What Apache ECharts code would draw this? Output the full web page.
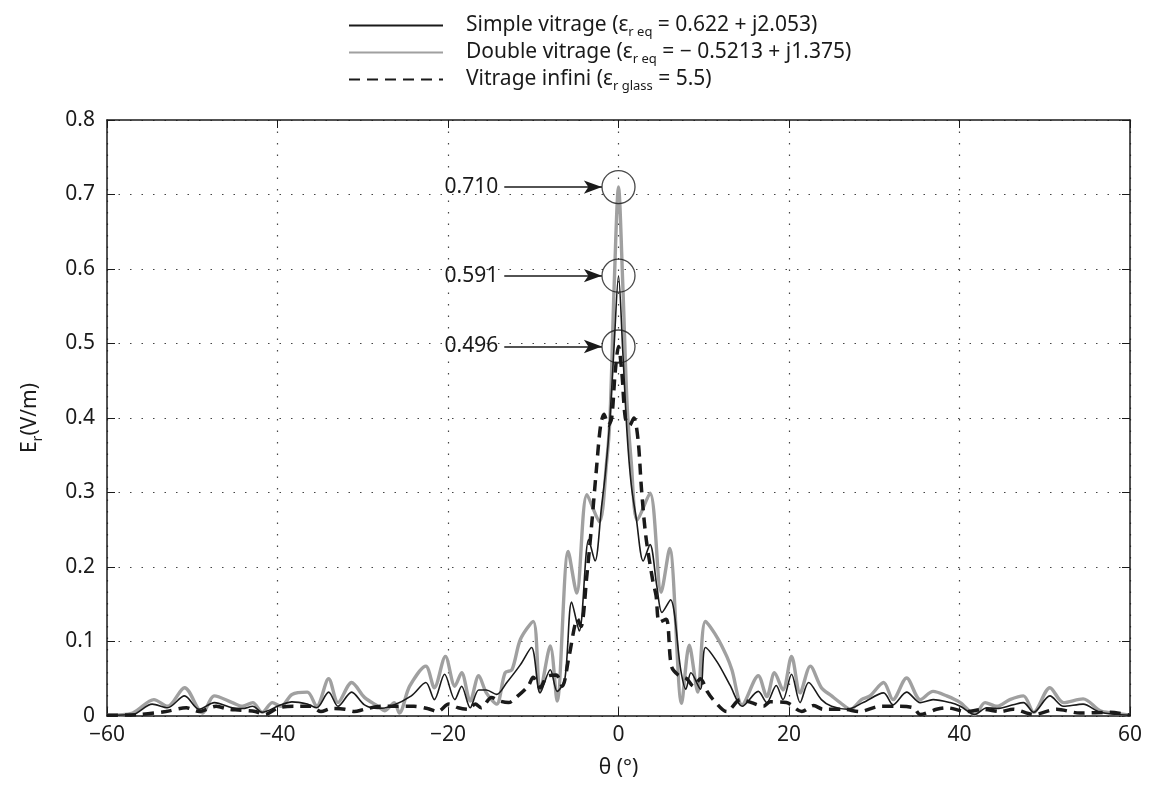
<!DOCTYPE html>
<html>
<head>
<meta charset="utf-8">
<script src="https://cdn.jsdelivr.net/npm/echarts@6/dist/echarts.min.js"></script>
<style>
  html, body { margin: 0; padding: 0; background: #fff; }
  #main { width: 1150px; height: 787px; }
</style>
</head>
<body>
<div id="main"></div>
<script>
// theta (deg), Er (V/m)
const simpleVitrage = [
  [-60, 0.001], [-57.0, 0.002], [-54.7, 0.016], [-52.9, 0.011], [-50.9, 0.027], [-49.2, 0.009],
  [-47.4, 0.018], [-45.3, 0.011], [-44.1, 0.010], [-42.9, 0.013], [-41.8, 0.005], [-39.8, 0.014],
  [-38.3, 0.019], [-36.5, 0.016], [-35.4, 0.011], [-34.0, 0.032], [-32.9, 0.013], [-31.3, 0.032],
  [-29.8, 0.015], [-28.2, 0.010], [-26.7, 0.013], [-24.3, 0.027], [-22.6, 0.045], [-21.6, 0.022],
  [-20.4, 0.056], [-19.2, 0.022], [-18.4, 0.040], [-17.4, 0.011], [-16.4, 0.035], [-15.5, 0.035],
  [-14.3, 0.029], [-13.1, 0.045], [-11.5, 0.069], [-10.2, 0.092], [-9.2, 0.031], [-8.0, 0.062],
  [-7.2, 0.033], [-6.3, 0.049], [-5.5, 0.153], [-4.6, 0.114], [-3.5, 0.237], [-2.75, 0.208],
  [-2.0, 0.28], [-1.5, 0.33], [-1.0, 0.40], [-0.5, 0.50], [0, 0.591], [0.5, 0.49], [1.0, 0.38],
  [1.5, 0.31], [2.1, 0.264], [2.9, 0.208], [3.7, 0.230], [4.5, 0.174], [5.1, 0.139], [6.1, 0.156],
  [7.3, 0.062], [7.9, 0.036], [8.5, 0.058], [9.6, 0.036], [10.2, 0.092], [11.6, 0.072], [13.1, 0.041],
  [14.5, 0.013], [16.4, 0.033], [17.4, 0.018], [18.5, 0.041], [19.3, 0.022], [20.3, 0.056],
  [21.3, 0.018], [22.3, 0.045], [23.8, 0.022], [25.0, 0.013], [26.8, 0.009], [28.7, 0.018],
  [31.1, 0.031], [32.2, 0.015], [33.8, 0.032], [35.4, 0.018], [36.9, 0.022], [38.9, 0.018],
  [40.1, 0.013], [41.8, 0.002], [43.2, 0.011], [44.4, 0.010], [46.3, 0.015], [47.5, 0.018],
  [48.7, 0.005], [50.6, 0.027], [52.2, 0.013], [54.5, 0.016], [56.5, 0.005], [60, 0.001]
];

const doubleVitrage = [
  [-60, 0.001], [-57.0, 0.004], [-54.5, 0.022], [-52.9, 0.013], [-50.9, 0.038], [-48.8, 0.004],
  [-47.4, 0.027], [-45.3, 0.018], [-44.1, 0.013], [-42.9, 0.018], [-41.8, 0.005], [-40.6, 0.018],
  [-39.6, 0.013], [-38.3, 0.029], [-36.5, 0.032], [-35.4, 0.013], [-34.0, 0.050], [-32.9, 0.018],
  [-31.3, 0.045], [-29.8, 0.025], [-28.2, 0.013], [-27.4, 0.007], [-26.3, 0.018], [-25.7, 0.004],
  [-24.5, 0.040], [-22.6, 0.067], [-21.6, 0.038], [-20.3, 0.080], [-19.2, 0.040], [-18.4, 0.058],
  [-17.4, 0.020], [-16.4, 0.054], [-15.5, 0.031], [-14.3, 0.016], [-13.3, 0.058], [-12.5, 0.062],
  [-11.5, 0.103], [-10.0, 0.127], [-9.2, 0.033], [-8.0, 0.094], [-7.2, 0.020], [-5.9, 0.221],
  [-4.9, 0.165], [-3.7, 0.297], [-2.25, 0.261], [-1.4, 0.34], [-1.0, 0.40], [-0.5, 0.58], [0, 0.71],
  [0.5, 0.58], [1.0, 0.42], [1.5, 0.34], [2.2, 0.263], [3.7, 0.299], [5.0, 0.166], [6.0, 0.225],
  [7.4, 0.017], [8.3, 0.095], [9.3, 0.032], [10.2, 0.127], [11.6, 0.105], [12.7, 0.080], [13.3, 0.062],
  [14.5, 0.015], [16.4, 0.054], [17.4, 0.026], [18.3, 0.058], [19.3, 0.035], [20.3, 0.080],
  [21.3, 0.031], [22.5, 0.067], [23.8, 0.038], [25.0, 0.027], [26.0, 0.018], [27.2, 0.009],
  [28.5, 0.022], [29.5, 0.027], [31.1, 0.045], [32.2, 0.022], [33.8, 0.051], [35.4, 0.022],
  [36.9, 0.033], [38.5, 0.027], [40.1, 0.018], [41.8, 0.002], [43.0, 0.018], [44.4, 0.013],
  [45.9, 0.022], [47.5, 0.027], [48.7, 0.005], [50.6, 0.038], [52.2, 0.018], [54.5, 0.023],
  [56.5, 0.007], [58.0, 0.004], [60, 0.001]
];

const vitrageInfini = [
  [-60, 0.001], [-56.2, 0.002], [-53.1, 0.006], [-50.7, 0.011], [-49.2, 0.006], [-47.2, 0.013],
  [-45.7, 0.009], [-44.6, 0.008], [-42.6, 0.006], [-41.5, 0.002], [-39.9, 0.011], [-38.0, 0.013],
  [-36.1, 0.013], [-34.9, 0.006], [-33.7, 0.010], [-32.1, 0.009], [-31.0, 0.006], [-29.8, 0.009],
  [-27.9, 0.013], [-25.9, 0.013], [-24.0, 0.013], [-22.4, 0.010], [-21.2, 0.006], [-19.9, 0.016],
  [-18.8, 0.011], [-17.6, 0.009], [-16.8, 0.016], [-16.1, 0.011], [-14.9, 0.025], [-13.9, 0.020],
  [-12.9, 0.018], [-11.8, 0.027], [-10.6, 0.040], [-10.0, 0.052], [-9.2, 0.038], [-8.4, 0.053],
  [-7.3, 0.055], [-6.6, 0.040], [-5.8, 0.080], [-4.8, 0.13], [-4.4, 0.12], [-3.7, 0.19],
  [-3.2, 0.25], [-2.6, 0.33], [-2.1, 0.39], [-1.7, 0.405], [-1.2, 0.39], [-0.8, 0.40], [-0.4, 0.46],
  [0, 0.496], [0.4, 0.46], [0.8, 0.40], [1.3, 0.39], [1.8, 0.40], [2.3, 0.37], [2.7, 0.304],
  [3.2, 0.242], [4.0, 0.183], [4.4, 0.162], [4.8, 0.126], [5.6, 0.13], [6.2, 0.067], [7.0, 0.055],
  [8.0, 0.050], [8.8, 0.040], [9.6, 0.050], [10.4, 0.033], [11.1, 0.022], [12.7, 0.006], [14.3, 0.022],
  [15.6, 0.018], [17.0, 0.013], [17.8, 0.019], [19.7, 0.018], [21.5, 0.006], [22.9, 0.014],
  [24.0, 0.009], [26.4, 0.009], [28.3, 0.006], [30.7, 0.013], [32.6, 0.013], [34.6, 0.011],
  [35.4, 0.002], [37.3, 0.009], [38.5, 0.011], [40.8, 0.006], [42.8, 0.009], [44.8, 0.006],
  [46.3, 0.009], [48.7, 0.002], [51.4, 0.009], [54.1, 0.004], [57.7, 0.005], [60, 0.001]
];

// annotated peak values
const peakValues = [0.710, 0.591, 0.496];
const arrowStart = -13.4;
const arrowEnd = -1.95;

const FONT = 'Noto Sans';
const INK = '#1a1a1a';
const GREY = '#a0a0a0';

const legendNames = {
  'Simple vitrage': 'Simple vitrage (ε{s|r eq} = 0.622 + j2.053)',
  'Double vitrage': 'Double vitrage (ε{s|r eq} = − 0.5213 + j1.375)',
  'Vitrage infini': 'Vitrage infini (ε{s|r glass} = 5.5)'
};

const minusFmt = v => (v < 0 ? '−' + Math.abs(v) : String(v));

let myChart = echarts.init(document.getElementById('main'));
myChart.setOption({
  animation: false,
  backgroundColor: '#fff',
  textStyle: { fontFamily: FONT },
  grid: { left: 107, right: 20, top: 120, bottom: 71 },
  legend: {
    orient: 'vertical',
    left: 343,
    top: 10,
    itemWidth: 94,
    itemHeight: 12,
    itemGap: 3,
    data: ['Simple vitrage', 'Double vitrage', 'Vitrage infini'],
    formatter: name => legendNames[name],
    itemStyle: { color: 'rgba(0,0,0,0)', borderWidth: 0, opacity: 0 },
    textStyle: {
      fontSize: 21,
      color: INK,
      fontFamily: FONT,
      padding: [0, 0, 0, 18],
      rich: {
        s: { fontSize: 13, color: INK, fontFamily: FONT, padding: [14, 0, 0, 0] }
      }
    }
  },
  xAxis: [{
    type: 'value',
    min: -60, max: 60, interval: 20,
    name: 'θ (°)',
    nameLocation: 'middle',
    nameGap: 42,
    nameTextStyle: { fontSize: 21, color: INK },
    axisLine: { onZero: false, lineStyle: { color: INK, width: 1.5 } },
    axisTick: { inside: true, length: 8, lineStyle: { color: INK } },
    axisLabel: { fontSize: 21, color: INK, margin: 9, formatter: minusFmt },
    splitLine: { show: true, lineStyle: { color: '#444', type: [1.5, 10], width: 1.2 } }
  }, {
    type: 'value',
    position: 'top',
    min: -60, max: 60, interval: 20,
    axisLine: { onZero: false, lineStyle: { color: INK, width: 1.5 } },
    axisTick: { inside: true, length: 8, lineStyle: { color: INK } },
    axisLabel: { show: false },
    splitLine: { show: false }
  }],
  yAxis: [{
    type: 'value',
    min: 0, max: 0.8, interval: 0.1,
    name: 'E{s|r}(V/m)',
    nameLocation: 'middle',
    nameGap: 62,
    nameRotate: 90,
    nameTextStyle: {
      fontSize: 21, color: INK,
      rich: { s: { fontSize: 14, color: INK, padding: [16, 0, 0, 0] } }
    },
    axisLine: { onZero: false, lineStyle: { color: INK, width: 1.5 } },
    axisTick: { inside: true, length: 8, lineStyle: { color: INK } },
    axisLabel: { fontSize: 21, color: INK, margin: 12 },
    splitLine: { show: true, lineStyle: { color: '#444', type: [1.5, 10], width: 1.2 } }
  }, {
    type: 'value',
    position: 'right',
    min: 0, max: 0.8, interval: 0.1,
    axisLine: { show: true, onZero: false, lineStyle: { color: INK, width: 1.5 } },
    axisTick: { show: true, inside: true, length: 8, lineStyle: { color: INK } },
    axisLabel: { show: false },
    splitLine: { show: false }
  }],
  series: [{
    name: 'Simple vitrage',
    type: 'line',
    data: simpleVitrage,
    smooth: 0.3,
    symbol: 'none',
    z: 4,
    lineStyle: { color: INK, width: 1.6 },
    itemStyle: { color: INK }
  }, {
    name: 'Double vitrage',
    type: 'line',
    data: doubleVitrage,
    smooth: 0.3,
    symbol: 'none',
    z: 3,
    lineStyle: { color: GREY, width: 3.4 },
    itemStyle: { color: GREY }
  }, {
    name: 'Vitrage infini',
    type: 'line',
    data: vitrageInfini,
    smooth: 0.3,
    symbol: 'none',
    z: 5,
    lineStyle: { color: INK, width: 3.5, type: [11, 7] },
    itemStyle: { color: INK }
  }, {
    name: 'peaks',
    type: 'scatter',
    z: 6,
    silent: true,
    data: peakValues.map(v => [0, v]),
    symbol: 'circle',
    symbolSize: 33,
    itemStyle: { color: 'rgba(0,0,0,0)', borderColor: INK, borderWidth: 1.3 },
    markLine: {
      silent: true,
      symbol: ['none', 'arrow'],
      symbolSize: [10, 18],
      lineStyle: { color: INK, width: 1.5, type: 'solid' },
      label: {
        show: true,
        position: 'start',
        fontSize: 21,
        color: INK,
        distance: 6,
        fontFamily: FONT
      },
      data: peakValues.map(v => [
        { coord: [arrowStart, v], label: { formatter: v.toFixed(3) } },
        { coord: [arrowEnd, v] }
      ])
    }
  }]
});
</script>
</body>
</html>
